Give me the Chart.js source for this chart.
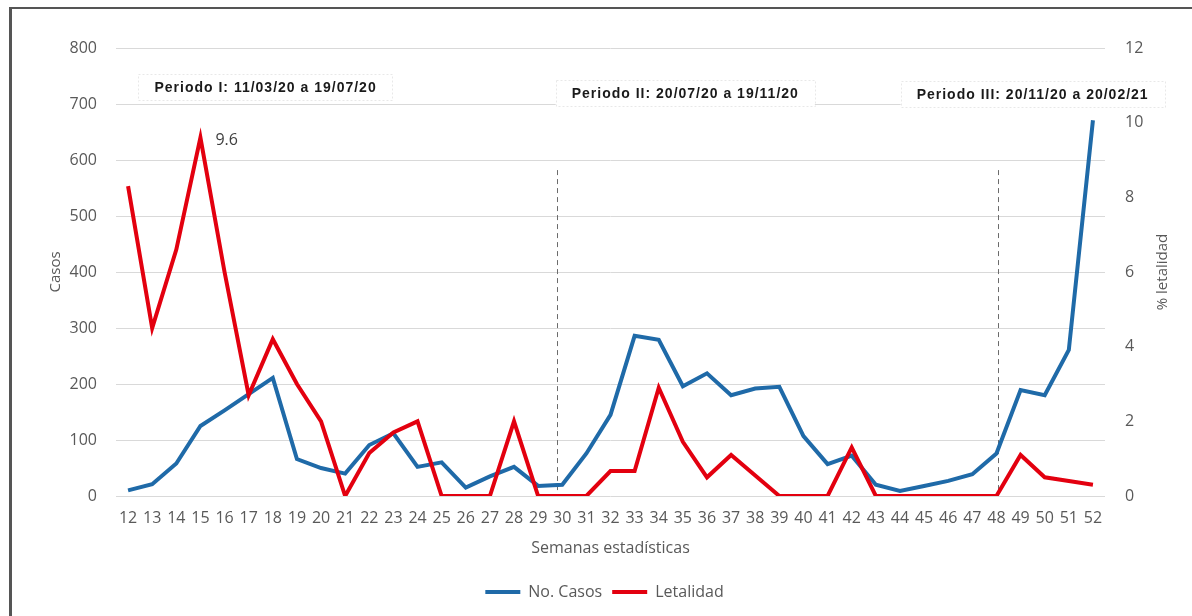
<!DOCTYPE html>
<html>
<head>
<meta charset="utf-8">
<script src="https://cdn.jsdelivr.net/npm/chart.js@4/dist/chart.umd.min.js"></script>
<style>
    html, body { margin: 0; padding: 0; background: #fff; }
    #wrap { position: relative; width: 1192px; height: 616px; overflow: hidden; }
    #frame { position: absolute; left: 9px; top: 7px; width: 1200px; height: 700px;
             border-left: 3px solid #555; border-top: 2px solid #555; }
</style>
</head>
<body>
<div id="wrap">
    <canvas id="chart" width="1192" height="616"></canvas>
    <div id="frame"></div>
</div>
<script>
const weeks = ['12', '13', '14', '15', '16', '17', '18', '19', '20', '21', '22', '23', '24', '25', '26', '27', '28', '29', '30', '31',
    '32', '33', '34', '35', '36', '37', '38', '39', '40', '41', '42', '43', '44', '45', '46', '47', '48', '49', '50', '51', '52'];

const casos = [10, 21, 58, 125, 153, 182, 211, 66, 50, 40, 91, 112, 52, 60, 15, 35, 52, 18, 20, 76,
    145, 286, 279, 196, 219, 180, 192, 195, 107, 57, 72, 20, 9, 18, 27, 39, 76, 189, 180, 261, 671];

const letalidad = [8.3, 4.5, 6.6, 9.6, 6.0, 2.7, 4.2, 3.0, 2.0, 0, 1.15, 1.7, 2.0, 0, 0, 0, 2.0, 0, 0, 0,
    0.67, 0.67, 2.9, 1.45, 0.5, 1.1, 0.55, 0, 0, 0, 1.3, 0, 0, 0, 0, 0, 0, 1.1, 0.5, 0.4, 0.3];

const casosTicks = [0, 100, 200, 300, 400, 500, 600, 700, 800];
const letalidadTicks = [0, 2, 4, 6, 8, 10, 12];

// period labels: [text, week position (fractional index), casos level]
const periodos = [
    ['Periodo I: 11/03/20 a 19/07/20', 5.7, 730],
    ['Periodo II: 20/07/20 a 19/11/20', 23.1, 719],
    ['Periodo III: 20/11/20 a 20/02/21', 37.5, 717]
];
const cortes = [17.8, 36.05]; // around weeks 30 and 48

const FONT = "'Open Sans', 'Noto Sans', sans-serif";
const GREY = '#595959';

const extras = {
    id: 'extras',
    beforeDatasetsDraw(chart) {
        const ctx = chart.ctx;
        const x = chart.scales.x, y = chart.scales.y;
        ctx.save();
        ctx.strokeStyle = '#6b6b6b';
        ctx.lineWidth = 1;
        ctx.setLineDash([5, 4]);
        cortes.forEach(function (w) {
            const px = Math.round(x.getPixelForValue(w)) + 0.5;
            ctx.beginPath();
            ctx.moveTo(px, y.getPixelForValue(582));
            ctx.lineTo(px, y.getPixelForValue(0));
            ctx.stroke();
        });
        ctx.restore();
    },
    afterDraw(chart) {
        const ctx = chart.ctx;
        const x = chart.scales.x, y = chart.scales.y, y2 = chart.scales.y2;
        ctx.save();

        // period boxes
        ctx.font = "bold 14px 'Liberation Sans', Arial, sans-serif";
        ctx.letterSpacing = '1px';
        ctx.textAlign = 'center';
        ctx.textBaseline = 'middle';
        periodos.forEach(function (p) {
            const cx = x.getPixelForValue(p[1]);
            const cy = y.getPixelForValue(p[2]);
            const w = ctx.measureText(p[0]).width + 32;
            ctx.fillStyle = '#fff';
            ctx.fillRect(cx - w / 2, cy - 13, w, 26);
            ctx.strokeStyle = '#e8e8e8';
            ctx.setLineDash([2, 2]);
            ctx.lineWidth = 1;
            ctx.strokeRect(Math.round(cx - w / 2) + 0.5, Math.round(cy - 13) + 0.5, Math.round(w), 26);
            ctx.fillStyle = '#1a1a1a';
            ctx.fillText(p[0], cx, cy + 1);
        });
        ctx.letterSpacing = '0px';

        // peak label
        const i = letalidad.indexOf(Math.max.apply(null, letalidad));
        ctx.font = '16px ' + FONT;
        ctx.fillStyle = '#404040';
        ctx.textAlign = 'left';
        ctx.fillText(String(letalidad[i]), x.getPixelForValue(i) + 15, y2.getPixelForValue(letalidad[i]) + 3);

        // right axis title (reads bottom to top)
        ctx.translate(1163, (chart.chartArea.top + chart.chartArea.bottom) / 2);
        ctx.rotate(-Math.PI / 2);
        ctx.font = '15px ' + FONT;
        ctx.fillStyle = GREY;
        ctx.textAlign = 'center';
        ctx.fillText('% letalidad', 0, 0);
        ctx.restore();
    }
};

new Chart(document.getElementById('chart'), {
    type: 'line',
    data: {
        labels: weeks,
        datasets: [{
            label: 'No. Casos',
            data: casos,
            yAxisID: 'y',
            borderColor: '#1f6aa8',
            backgroundColor: '#1f6aa8',
            borderWidth: 4,
            pointRadius: 0,
            tension: 0,
            order: 1
        }, {
            label: 'Letalidad',
            data: letalidad,
            yAxisID: 'y2',
            borderColor: '#e3000f',
            backgroundColor: '#e3000f',
            borderWidth: 4,
            pointRadius: 0,
            tension: 0,
            order: 0
        }]
    },
    options: {
        responsive: false,
        animation: false,
        layout: { padding: { left: 17, right: 0, top: 48, bottom: 6 } },
        plugins: {
            tooltip: { enabled: false },
            legend: {
                position: 'bottom',
                labels: {
                    usePointStyle: true,
                    pointStyle: 'line',
                    pointStyleWidth: 35,
                    padding: 10,
                    color: GREY,
                    font: { family: FONT, size: 16 },
                    sort: function (a, b) { return a.datasetIndex - b.datasetIndex; }
                }
            }
        },
        scales: {
            x: {
                offset: true,
                grid: { display: false, drawTicks: false },
                border: { display: false },
                ticks: { autoSkip: false, maxRotation: 0, padding: 13, color: GREY, font: { family: FONT, size: 16 } },
                title: { display: true, text: 'Semanas estadísticas', color: GREY, font: { family: FONT, size: 16 }, padding: { top: 0, bottom: 16 } },
                afterFit: function (s) { s.height = 78; }
            },
            y: {
                position: 'left',
                min: 0,
                max: 800,
                afterBuildTicks: function (s) { s.ticks = casosTicks.map(function (v) { return { value: v }; }); },
                grid: { color: '#d9d9d9', lineWidth: 1, drawTicks: false },
                border: { display: false },
                ticks: { padding: 19, color: GREY, font: { family: FONT, size: 16 } },
                title: { display: true, text: 'Casos', color: GREY, font: { family: FONT, size: 15 }, padding: { top: 30, bottom: 0 } },
                afterFit: function (s) { s.width = 99; }
            },
            y2: {
                position: 'right',
                min: 0,
                max: 12,
                afterBuildTicks: function (s) { s.ticks = letalidadTicks.map(function (v) { return { value: v }; }); },
                grid: { display: false, drawTicks: false },
                border: { display: false },
                ticks: { padding: 20, color: GREY, font: { family: FONT, size: 16 } },
                afterFit: function (s) { s.width = 87; }
            }
        }
    },
    plugins: [extras]
});
</script>
</body>
</html>
